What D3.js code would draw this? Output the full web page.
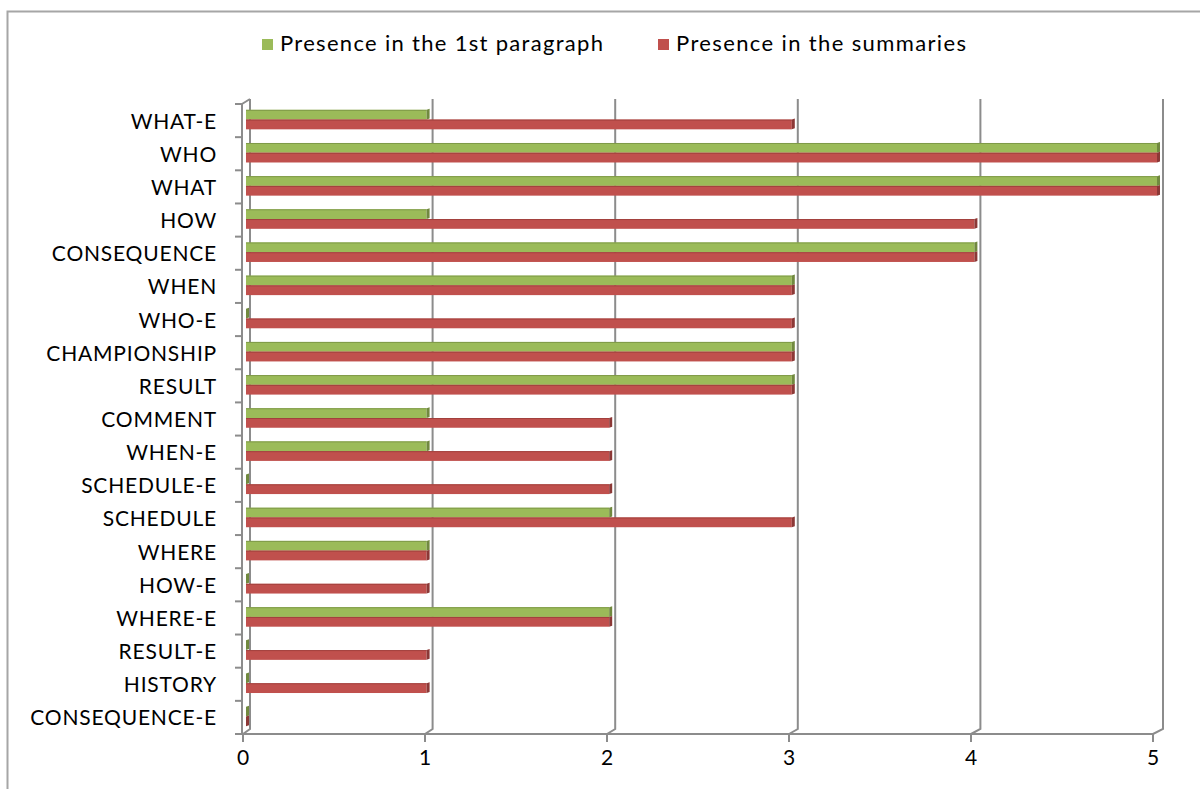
<!DOCTYPE html>
<html>
<head>
<meta charset="utf-8">
<script src="https://cdn.jsdelivr.net/npm/d3@7"></script>
<style>
  body { margin: 0; background: #fff; }
  svg { display: block; font-family: Lato, "Open Sans", sans-serif; }
</style>
</head>
<body>
<div id="chart"></div>
<script>
// categories, top to bottom
const categories = ['WHAT-E', 'WHO', 'WHAT', 'HOW', 'CONSEQUENCE', 'WHEN', 'WHO-E', 'CHAMPIONSHIP',
  'RESULT', 'COMMENT', 'WHEN-E', 'SCHEDULE-E', 'SCHEDULE', 'WHERE', 'HOW-E', 'WHERE-E',
  'RESULT-E', 'HISTORY', 'CONSEQUENCE-E'];
const firstParagraph = [1, 5, 5, 1, 4, 3, 0, 3, 3, 1, 1, 0, 2, 1, 0, 2, 0, 0, 0];
const summaries = [3, 5, 5, 4, 4, 3, 3, 3, 3, 2, 2, 2, 3, 1, 1, 2, 1, 1, 0];
const seriesNames = ['Presence in the 1st paragraph', 'Presence in the summaries'];
const xTicks = [0, 1, 2, 3, 4, 5];

const colors = ['#9bbb59', '#c0504d'];
const darker = ['#71893f', '#8c3836'];
const edge = ['#7f9a48', '#a2403d'];

const width = 1200;
const height = 789;

const svg = d3.select('#chart').append('svg')
  .attr('width', width)
  .attr('height', height);

// chart area frame (left + top)
svg.append('path')
  .attr('d', 'M7.5,789 V11.5 H1200')
  .attr('fill', 'none')
  .attr('stroke', '#a6a6a6')
  .attr('stroke-width', 2);

// depth offset of the back wall
const dy = 5;
const floorY = 734;
const topY = 104;

// front axis scale and back wall scale
const xFront = d3.scaleLinear().domain([0, 5]).range([243, 1153]);
const xBack = d3.scaleLinear().domain([0, 5]).range([250, 1163]);
// bars live between front and back
const xBar = d3.scaleLinear().domain([0, 5]).range([247, 1160]);

const y = d3.scaleBand()
  .domain(categories)
  .range([topY, floorY]);

const ySeries = d3.scaleBand()
  .domain([0, 1])
  .range([0, y.bandwidth()])
  .paddingOuter(0.7)
  .paddingInner(0);

const gridColor = '#8c8c8c';

// back gridlines with the floor bend
const grid = svg.append('g').classed('grid', true);
grid.selectAll('path')
  .data(xTicks)
  .enter()
  .append('path')
  .attr('d', d => `M${xBack(d)},${topY - dy} V${floorY - dy} L${xFront(d)},${floorY}`)
  .attr('fill', 'none')
  .attr('stroke', gridColor)
  .attr('stroke-width', 2);

// front axes
svg.append('path')
  .attr('d', `M${xBack(0)},${topY - dy} L${xFront(0) - 1},${topY} V${floorY} H${xFront(5)}`)
  .attr('fill', 'none')
  .attr('stroke', gridColor)
  .attr('stroke-width', 2);

// y ticks between categories
const yBounds = categories.map(c => y(c)).concat([floorY]);
svg.append('g')
  .selectAll('line')
  .data(yBounds)
  .enter()
  .append('line')
  .attr('x1', xFront(0) - 8)
  .attr('x2', xFront(0))
  .attr('y1', d => d)
  .attr('y2', d => d)
  .attr('stroke', gridColor)
  .attr('stroke-width', 2);

// x axis ticks and labels
const xAxis = svg.append('g').classed('x axis', true);
xAxis.selectAll('line')
  .data(xTicks)
  .enter()
  .append('line')
  .attr('x1', d => xFront(d))
  .attr('x2', d => xFront(d))
  .attr('y1', floorY)
  .attr('y2', floorY + 8)
  .attr('stroke', gridColor)
  .attr('stroke-width', 2);
xAxis.selectAll('text')
  .data(xTicks)
  .enter()
  .append('text')
  .attr('x', d => xFront(d))
  .attr('y', 765)
  .attr('text-anchor', 'middle')
  .attr('font-size', 21)
  .attr('fill', '#000')
  .text(d => d);

// category labels
svg.append('g')
  .selectAll('text')
  .data(categories)
  .enter()
  .append('text')
  .attr('x', 217)
  .attr('y', d => y(d) + y.bandwidth() / 2 + 8)
  .attr('text-anchor', 'end')
  .attr('font-size', 21)
  .attr('letter-spacing', 0.8)
  .attr('fill', '#000')
  .text(d => d);

// bars
const rows = categories.map((c, i) => [
  {cat: c, s: 0, v: firstParagraph[i]},
  {cat: c, s: 1, v: summaries[i]}
]).flat();

const bars = svg.append('g').classed('bars', true)
  .selectAll('g')
  .data(rows)
  .enter()
  .append('g');

const face = 3; // visible end face width
bars.each(function (d) {
  const g = d3.select(this);
  const y0 = y(d.cat) + ySeries(d.s) - 1;
  const h = ySeries.bandwidth();
  const x0 = xBar(0) - 1;
  const x1 = Math.max(xBar(d.v) - face, x0);
  if (x1 > x0) {
    g.append('rect')
      .attr('x', x0)
      .attr('y', y0)
      .attr('width', x1 - x0)
      .attr('height', h)
      .attr('fill', colors[d.s]);
    // top edge
    g.append('line')
      .attr('x1', x0)
      .attr('x2', x1)
      .attr('y1', y0 + 0.5)
      .attr('y2', y0 + 0.5)
      .attr('stroke', edge[d.s])
      .attr('stroke-width', 1);
  }
  // end face
  g.append('path')
    .attr('d', `M${x1},${y0} L${x1 + face},${y0 - 1} V${y0 + h - 1} L${x1},${y0 + h} Z`)
    .attr('fill', darker[d.s]);
});

// legend
const legend = svg.append('g').classed('legend', true);
const legendX = [262, 658];
const legendW = [323, 290];
seriesNames.forEach((name, i) => {
  legend.append('rect')
    .attr('x', legendX[i])
    .attr('y', 39)
    .attr('width', 11)
    .attr('height', 11)
    .attr('fill', colors[i]);
  legend.append('text')
    .attr('x', legendX[i] + 18)
    .attr('y', 51)
    .attr('font-size', 22)
    .attr('textLength', legendW[i])
    .attr('lengthAdjust', 'spacing')
    .attr('fill', '#000')
    .text(name);
});
</script>
</body>
</html>
